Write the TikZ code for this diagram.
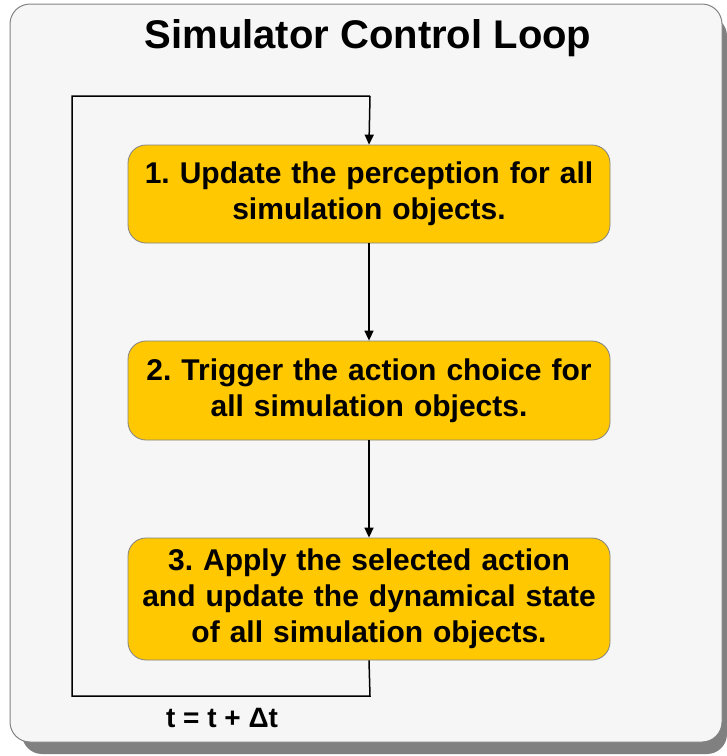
\documentclass[tikz,border=0pt]{standalone}
\usepackage{fontspec}
\setmainfont{Liberation Sans}
\usetikzlibrary{arrows.meta}
\definecolor{bgfill}{RGB}{246,246,246}
\definecolor{frame}{RGB}{130,130,130}
\definecolor{shadowgray}{RGB}{128,128,128}
\definecolor{stepfill}{RGB}{255,200,0}
\frenchspacing
\begin{document}
\begin{tikzpicture}[x=1pt,y=-1pt,
  stepbox/.style={draw=frame, line width=0.8pt, fill=stepfill, rounded corners=18pt,
    minimum width=482pt, text width=478pt, align=center, inner sep=0pt,
    font=\fontsize{30}{36}\selectfont\bfseries},
  conn/.style={line width=1.5pt, draw=black, -{Triangle[length=10pt,width=9pt]}},
  loopline/.style={line width=1.5pt, draw=black}]
\useasboundingbox (0,0) rectangle (727,756);
% shadow and frame
\fill[shadowgray, rounded corners=20pt] (22,16) rectangle (727,754);
\draw[frame, fill=bgfill, line width=1pt, rounded corners=20pt] (10,4) rectangle (722,742);
\node[font=\fontsize{40}{44}\selectfont\bfseries] (title) at (368,38) {Simulator Control Loop};
% steps
\node[stepbox, minimum height=98pt] (s1) at (369,194) {1. Update the perception for all\\simulation objects.};
\node[stepbox, minimum height=99pt] (s2) at (369,390.5) {2. Trigger the action choice for\\all simulation objects.};
\node[stepbox, minimum height=122pt] (s3) at (369,599) {3. Apply the selected action\\and update the dynamical state\\of all simulation objects.};
\coordinate (tl) at (72,96);
\coordinate (tr) at (370,96);
\coordinate (bl) at (72,696);
\coordinate (br) at (370,696);
\draw[conn] (s1.south) -- (s2.north);
\draw[conn] (s2.south) -- (s3.north);
\draw[loopline] (s3.south) -- (br) -- (bl) -- (tl) -- (tr);
\draw[conn] (tr) -- (s1.north);
\node[font=\fontsize{28}{30}\selectfont\bfseries] (tlabel) at (222,718) {t = t + Δt};
\end{tikzpicture}
\end{document}
